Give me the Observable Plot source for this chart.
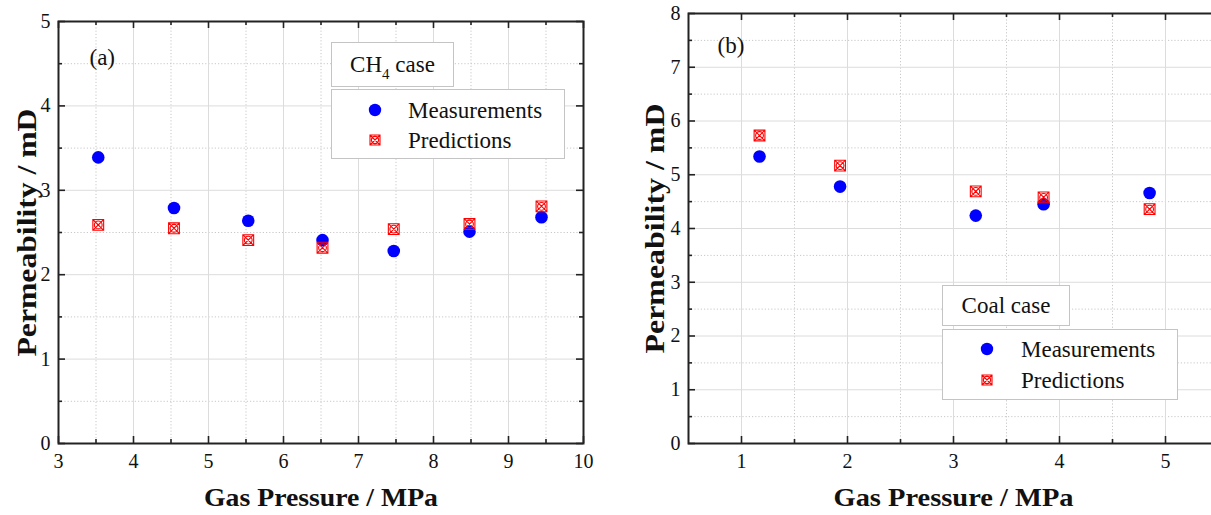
<!DOCTYPE html>
<html><head><meta charset="utf-8">
<script src="https://cdn.jsdelivr.net/npm/d3@7"></script>
<script src="https://cdn.jsdelivr.net/npm/@observablehq/plot@0.6"></script>
<style>
body{margin:0;background:#fff;overflow:hidden;}
#wrap{position:relative;width:1211px;height:515px;overflow:hidden;font-family:"Liberation Serif","DejaVu Serif",serif;color:#111;}
#wrap svg text{font-family:"Liberation Serif","DejaVu Serif",serif !important;}
.panel{position:absolute;top:0;}
.box{position:absolute;border:1px solid #c4c4c4;background:#fff;box-sizing:border-box;}
.title{display:flex;align-items:center;justify-content:center;font-size:23px;font-family:"Liberation Serif","DejaVu Serif",serif;}
.row{position:absolute;display:flex;align-items:center;font-size:23px;line-height:1;font-family:"Liberation Serif","DejaVu Serif",serif;}
.sub{font-size:15px;position:relative;top:7px;}
</style></head>
<body><div id="wrap"></div>
<script>
// ---- data: panel (a) CH4 case
const pressureA  = [3.53, 4.54, 5.53, 6.52, 7.47, 8.48, 9.44];
const measuredA  = [3.39, 2.79, 2.64, 2.41, 2.28, 2.51, 2.68];
const predictedA = [2.59, 2.55, 2.41, 2.32, 2.54, 2.60, 2.81];
// ---- data: panel (b) Coal case
const pressureB  = [1.17, 1.93, 3.21, 3.85, 4.85];
const measuredB  = [5.34, 4.78, 4.24, 4.45, 4.66];
const predictedB = [5.73, 5.17, 4.69, 4.58, 4.36];
// ---- ticks
const xTicksA = [3, 4, 5, 6, 7, 8, 9, 10];
const xMinorA = [3.5, 4.5, 5.5, 6.5, 7.5, 8.5, 9.5];
const yTicksA = [0, 1, 2, 3, 4, 5];
const yMinorA = [0.5, 1.5, 2.5, 3.5, 4.5];
const xTicksB = [1, 2, 3, 4, 5];
const xMinorB = [1.5, 2.5, 3.5, 4.5];
const yTicksB = [0, 1, 2, 3, 4, 5, 6, 7, 8];
const yMinorB = [0.5, 1.5, 2.5, 3.5, 4.5, 5.5, 6.5, 7.5];
const xTitle = "Gas Pressure / MPa";
const yTitle = "Permeability / mD";
const seriesNames = ["Measurements", "Predictions"];

const FONT = '"Liberation Serif","DejaVu Serif",serif';

// red square with cross and circle
const crossBox = {
  draw(ctx, size) {
    const r = Math.sqrt(size / Math.PI);
    ctx.moveTo(-r, -r); ctx.lineTo(r, -r); ctx.lineTo(r, r); ctx.lineTo(-r, r); ctx.closePath();
    ctx.moveTo(-r, -r); ctx.lineTo(r, r);
    ctx.moveTo(r, -r); ctx.lineTo(-r, r);
    const c = r * 0.72;
    ctx.moveTo(c, 0); ctx.arc(0, 0, c, 0, 2 * Math.PI);
  }
};

function panel(o) {
  const height = 515, marginBottom = 72;
  const iw = o.width - o.marginLeft - o.marginRight;
  const ih = height - o.marginTop - marginBottom;
  const ms = o.xs.map((x, i) => ({x, y: o.ms[i]}));
  const ps = o.xs.map((x, i) => ({x, y: o.ps[i]}));
  const tk = {stroke: "#222", strokeWidth: 1.6};
  const fmt = d => String(d);
  const svg = Plot.plot({
    width: o.width, height,
    marginLeft: o.marginLeft, marginRight: o.marginRight, marginTop: o.marginTop, marginBottom,
    x: {domain: o.xDomain}, y: {domain: o.yDomain},
    style: {fontFamily: FONT, background: "transparent", color: "#111", overflow: "visible"},
    marks: [
      Plot.ruleY(o.yMinor, {stroke: "#c8c8c8", strokeDasharray: "1.2,2", strokeWidth: 1}),
      Plot.ruleX(o.xMinor, {stroke: "#c8c8c8", strokeDasharray: "1.2,2", strokeWidth: 1}),
      Plot.ruleY(o.yTicks, {stroke: "#dcdcdc", strokeWidth: 1}),
      Plot.ruleX(o.xTicks, {stroke: "#dcdcdc", strokeWidth: 1}),
      // inward ticks on all four sides
      Plot.tickY(o.yTicks, {...tk, insetRight: iw - 7}),
      Plot.tickY(o.yTicks, {...tk, insetLeft: iw - 7}),
      Plot.tickY(o.yMinor, {...tk, insetRight: iw - 4}),
      Plot.tickY(o.yMinor, {...tk, insetLeft: iw - 4}),
      Plot.tickX(o.xTicks, {...tk, insetTop: ih - 7}),
      Plot.tickX(o.xTicks, {...tk, insetBottom: ih - 7}),
      Plot.tickX(o.xMinor, {...tk, insetTop: ih - 4}),
      Plot.tickX(o.xMinor, {...tk, insetBottom: ih - 4}),
      Plot.axisX(o.xTicks, {tickSize: 0, tickPadding: 10, fontSize: 20, fontFamily: FONT, tickFormat: fmt, label: null}),
      Plot.axisY(o.yTicks, {tickSize: 0, tickPadding: 8, fontSize: 20, fontFamily: FONT, tickFormat: fmt, label: null}),
      Plot.dot(ms, {x: "x", y: "y", r: 6.3, fill: "#0000ff", stroke: "none"}),
      Plot.dot(ps, {x: "x", y: "y", r: 5.4, symbol: crossBox, stroke: "#ff0000", strokeWidth: 1.1, fill: "none"}),
      Plot.frame({stroke: "#222", strokeWidth: 2}),
      Plot.text([o.tag], {frameAnchor: "top-left", textAnchor: "start", lineAnchor: "middle", dx: o.tagDx, dy: o.tagDy, fontSize: 23, fontFamily: FONT, fill: "#111"}),
      Plot.text([xTitle], {frameAnchor: "bottom", textAnchor: "middle", lineAnchor: "middle", dy: 54, fontSize: 26, fontWeight: "bold", fontFamily: FONT, fill: "#111"}),
      Plot.text([yTitle], {frameAnchor: "left", textAnchor: "middle", lineAnchor: "middle", rotate: -90, dx: o.yTitleDx, fontSize: 27, fontWeight: "bold", fontFamily: FONT, fill: "#111"})
    ]
  });
  // stretch the axis titles to the reference lengths
  for (const t of svg.querySelectorAll("text")) {
    if (t.textContent === xTitle) { t.setAttribute("textLength", o.xTitleLen); t.setAttribute("lengthAdjust", "spacingAndGlyphs"); }
    if (t.textContent === yTitle) { t.setAttribute("textLength", o.yTitleLen); t.setAttribute("lengthAdjust", "spacingAndGlyphs"); }
  }
  return svg;
}

const wrap = document.getElementById("wrap");

const a = panel({xs: pressureA, ms: measuredA, ps: predictedA, xDomain: [3, 10], yDomain: [0, 5],
  xTicks: xTicksA, xMinor: xMinorA, yTicks: yTicksA, yMinor: yMinorA,
  width: 600, marginLeft: 58, marginRight: 17, marginTop: 21, tag: "(a)", tagDx: 31, tagDy: 36, yTitleDx: -31,
  xTitleLen: 234, yTitleLen: 248});
a.classList.add("panel"); a.style.left = "0px";
wrap.appendChild(a);

const b = panel({xs: pressureB, ms: measuredB, ps: predictedB, xDomain: [0.5, 5.5], yDomain: [0, 8],
  xTitleLen: 240, yTitleLen: 250,
  xTicks: xTicksB, xMinor: xMinorB, yTicks: yTicksB, yMinor: yMinorB,
  width: 618, marginLeft: 88, marginRight: 0, marginTop: 13, tag: "(b)", tagDx: 29, tagDy: 32, yTitleDx: -33});
b.classList.add("panel"); b.style.left = "600px";
wrap.appendChild(b);

// legends (HTML overlays)
function markerSVG(kind) {
  if (kind === 0) return '<svg width="14" height="14" viewBox="-7 -7 14 14"><circle r="6.2" fill="#0000ff"/></svg>';
  return '<svg width="14" height="14" viewBox="-7 -7 14 14"><path d="M-5,-5H5V5H-5Z M-5,-5L5,5 M5,-5L-5,5 M3.6,0A3.6,3.6 0 1 1 -3.6,0A3.6,3.6 0 1 1 3.6,0" fill="none" stroke="#ff0000" stroke-width="1.1"/></svg>';
}
function legend(titleHTML, tb, lb, mx, tx, rowsY) {
  const t = document.createElement("div");
  t.className = "box title";
  Object.assign(t.style, {left: tb[0] + "px", top: tb[1] + "px", width: tb[2] + "px", height: tb[3] + "px"});
  t.innerHTML = "<span>" + titleHTML + "</span>";
  wrap.appendChild(t);
  const l = document.createElement("div");
  l.className = "box";
  Object.assign(l.style, {left: lb[0] + "px", top: lb[1] + "px", width: lb[2] + "px", height: lb[3] + "px"});
  wrap.appendChild(l);
  seriesNames.forEach((name, i) => {
    const r = document.createElement("div");
    r.className = "row";
    r.style.left = (mx - 7) + "px";
    r.style.top = (rowsY[i] - 12) + "px";
    r.style.height = "24px";
    r.innerHTML = markerSVG(i) + '<span style="margin-left:' + (tx - mx - 7) + 'px">' + name + '</span>';
    wrap.appendChild(r);
  });
}
legend('CH<span class="sub">4</span> case', [331, 42, 123, 45], [331, 89, 234, 70], 375, 408, [110, 140]);
legend("Coal case", [942, 285, 128, 41], [942, 329, 236, 71], 987, 1021, [349, 380]);
</script>
</body></html>
